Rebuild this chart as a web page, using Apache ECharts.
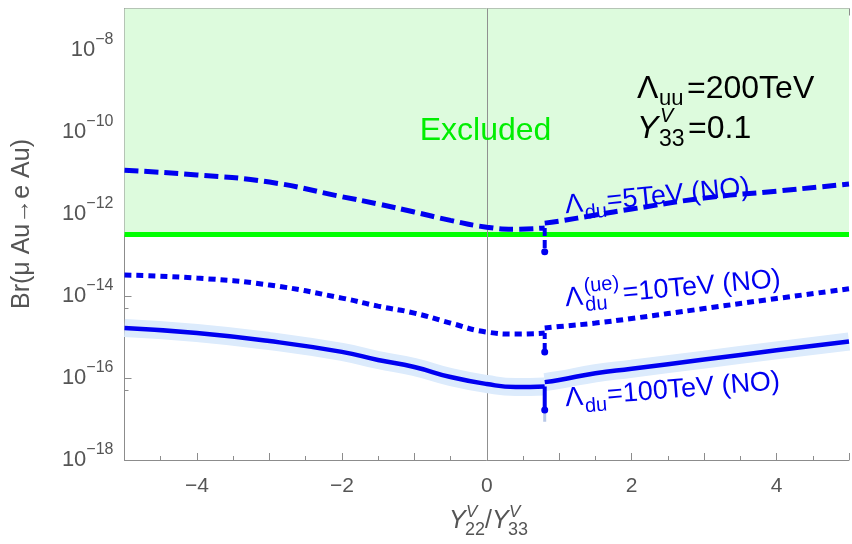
<!DOCTYPE html>
<html><head><meta charset="utf-8">
<script src="https://cdn.jsdelivr.net/npm/echarts@6/dist/echarts.min.js"></script>
<style>html,body{margin:0;padding:0;background:#fff}#c{width:852px;height:544px}</style>
</head><body><div id="c"></div>
<script>
// ---- data ----
const xTickLabels = [-4, -2, 0, 2, 4];
const yTickExponents = [-18, -16, -14, -12, -10, -8];
const excludedLimit = 3.1e-13;
const xLeft  = [-5, -4, -3, -2, -1.5, -1, -0.5, 0, 0.4, 0.8];
const xRight = [0.8, 1, 1.5, 2, 3, 4, 5];
const spikeX = 0.8;
// Lambda_du = 5 TeV (dashed)
const dashedLeft  = [1.15e-11, 8.8e-12, 5.9e-12, 2.6e-12, 1.73e-12, 1.1e-12, 6.9e-13, 4.7e-13, 4.2e-13, 4.5e-13];
const dashedRight = [5.9e-13, 6.6e-13, 9.3e-13, 1.3e-12, 2.4e-12, 3.55e-12, 5.3e-12];
const dashedSpike = 1.18e-13;
// Lambda_du^(ue) = 10 TeV (dotted)
const dottedLeft  = [3.2e-14, 2.7e-14, 1.83e-14, 8.8e-15, 5.6e-15, 3.8e-15, 2.17e-15, 1.31e-15, 1.17e-15, 1.24e-15];
const dottedRight = [1.64e-15, 1.78e-15, 2.17e-15, 2.8e-15, 4.9e-15, 8.6e-15, 1.48e-14];
const dottedSpike = 4.3e-16;
// Lambda_du = 100 TeV (solid)
const solidLeft  = [1.64e-15, 1.24e-15, 7.9e-16, 4.3e-16, 2.73e-16, 1.84e-16, 1.05e-16, 7.1e-17, 6.0e-17, 6.2e-17];
const solidRight = [7.9e-17, 8.9e-17, 1.3e-16, 1.67e-16, 2.8e-16, 4.7e-16, 7.7e-16];
const solidSpike = 1.65e-17;
const bandSpike = 8.5e-18;

// ---- chart ----
const FONT = 'Liberation Sans, Arial, sans-serif';
const BLUE = '#0000f0';
const GRAY = '#555555';
const AXIS = '#8c8c8c';
const zip = (xs, ys) => xs.map((x, i) => [x, ys[i]]);

function curve(name, xs, ys, type, width, z) {
  return { name, type: 'line', data: zip(xs, ys), showSymbol: false, symbol: 'none',
    smooth: true, z, silent: true, animation: false,
    lineStyle: { color: BLUE, width, type } };
}
function spike(name, x, top, bottom, type, width, z, color, dot) {
  return { name, type: 'line', z, silent: true, animation: false,
    data: [{ value: [x, top], symbol: 'none' }, { value: [x, bottom], symbol: dot ? 'circle' : 'none', symbolSize: 7 }],
    showSymbol: true, itemStyle: { color }, lineStyle: { color, width, type } };
}
const dashPattern = [14, 6];
const dotPattern = [7, 5];

const chart = echarts.init(document.getElementById('c'), null, { renderer: 'canvas' });
const xAxisBase = {
  type: 'value', min: -5, max: 5, interval: 1,
  axisLine: { show: true, onZero: false, lineStyle: { color: AXIS, width: 1 } },
  axisTick: { show: true, inside: true, length: 7, lineStyle: { color: AXIS } },
  minorTick: { show: true, splitNumber: 2, length: 4, lineStyle: { color: AXIS } },
  splitLine: { show: false }
};
chart.setOption({
  animation: false,
  grid: { left: 124.5, top: 8.5, width: 729, height: 451.5, containLabel: false },
  xAxis: [
    Object.assign({}, xAxisBase, { position: 'bottom',
      axisLabel: { show: true, margin: 16, color: GRAY, fontSize: 21, fontFamily: FONT,
        formatter: v => xTickLabels.includes(v) ? (v < 0 ? '\u2212' + (-v) : String(v)) : '' } }),
    Object.assign({}, xAxisBase, { position: 'top', axisLabel: { show: false } })
  ],
  yAxis: {
    type: 'log', logBase: 10, min: 1e-18, max: 1e-7, interval: 2,
    axisLine: { show: true, onZero: false, lineStyle: { color: AXIS, width: 1 } },
    axisTick: { show: true, inside: true, length: 7, lineStyle: { color: AXIS } },
    minorTick: { show: true, splitNumber: 2, length: 4, lineStyle: { color: AXIS } },
    splitLine: { show: false },
    axisLabel: { margin: 11, color: GRAY, fontFamily: FONT,
      formatter: v => { const e = Math.round(Math.log10(v));
        return yTickExponents.includes(e) ? '{b|10}{e|\u2212' + (-e) + '}' : ''; },
      rich: { b: { fontSize: 22, fontFamily: FONT, color: GRAY, verticalAlign: 'bottom', lineHeight: 22 },
              e: { fontSize: 16, fontFamily: FONT, color: GRAY, verticalAlign: 'bottom', lineHeight: 16, padding: [0, 0, 13, 0] } } }
  },
  series: [
    { name: 'limit', type: 'line', data: [[-5, excludedLimit], [5, excludedLimit]], symbol: 'none', z: 3, silent: true,
      lineStyle: { color: '#00ff00', width: 5 },
      markArea: { silent: true, itemStyle: { color: '#ddfbdd' }, data: [[{ yAxis: excludedLimit }, { yAxis: 1e-7 }]] } },
    { name: 'zero', type: 'line', data: [], z: 4, silent: true,
      markLine: { silent: true, symbol: 'none', label: { show: false }, lineStyle: { color: '#909090', width: 1, type: 'solid' },
        data: [{ xAxis: 0 }] } },
    // band around solid curve
    Object.assign(curve('bandL', xLeft, solidLeft, 'solid', 18, 5), { lineStyle: { color: '#dcebfc', width: 18, cap: 'butt' } }),
    Object.assign(curve('bandR', xRight, solidRight, 'solid', 18, 5), { lineStyle: { color: '#dcebfc', width: 18, cap: 'butt' } }),
    spike('bandSpike', spikeX, solidLeft[solidLeft.length - 1], bandSpike, 'solid', 3, 6, '#b8c8e8', false),
    curve('dashedL', xLeft, dashedLeft, dashPattern, 5, 10),
    curve('dashedR', xRight, dashedRight, dashPattern, 5, 10),
    spike('dashedS', spikeX, dashedLeft[dashedLeft.length - 1], dashedSpike, [8, 4], 4, 10, BLUE, true),
    curve('dottedL', xLeft, dottedLeft, dotPattern, 5, 10),
    curve('dottedR', xRight, dottedRight, dotPattern, 5, 10),
    spike('dottedS', spikeX, dottedLeft[dottedLeft.length - 1], dottedSpike, [6, 4], 4, 10, BLUE, true),
    curve('solidL', xLeft, solidLeft, 'solid', 4.5, 10),
    curve('solidR', xRight, solidRight, 'solid', 4.5, 10),
    spike('solidS', spikeX, solidLeft[solidLeft.length - 1], solidSpike, 'solid', 4, 10, BLUE, true)
  ]
});

// ---- text annotations ----
function T(text, x, baseline, fs, opts) {
  opts = opts || {};
  return { type: 'text', x: x, y: baseline - 0.34 * fs, silent: true, z: 100,
    style: { text, fill: opts.fill || '#000', font: (opts.italic ? 'italic ' : '') + fs + 'px ' + FONT,
      textAlign: opts.align || 'left', textVerticalAlign: 'middle' } };
}
const blue = { fill: BLUE };
chart.setOption({ graphic: [
  T('Excluded', 485.5, 142, 32, { fill: '#00ee00', align: 'center' }),
  T('\u039B', 637, 100, 32), T('uu', 659, 106, 22), T('=200TeV', 687, 100, 32),
  T('Y', 637, 140, 32, { italic: true }), T('V', 660, 123, 20, { italic: true }), T('33', 659, 147, 23), T('=0.1', 688, 140, 32),
  { type: 'group', x: 566, y: 215, rotation: 0.1, z: 100, children: [
    T('\u039B', 0, 0, 27, blue), T('du', 19, 7, 20, blue), T('=5TeV (NO)', 42, 0, 27, blue) ] },
  { type: 'group', x: 566, y: 308, rotation: 0.09, z: 100, children: [
    T('\u039B', 0, 0, 27, blue), T('(ue)', 19.5, -13, 20, blue), T('du', 19.5, 6, 20, blue), T('=10TeV (NO)', 58, 0, 27, blue) ] },
  { type: 'group', x: 566, y: 408, rotation: 0.08, z: 100, children: [
    T('\u039B', 0, 0, 27, blue), T('du', 19, 7, 20, blue), T('=100TeV (NO)', 42, 0, 27, blue) ] },
  { type: 'text', x: 22, y: 224, rotation: Math.PI / 2, silent: true, z: 100,
    style: { text: 'Br(\u03BC Au\u2192e Au)', fill: GRAY, font: '25px ' + FONT, textAlign: 'center', textVerticalAlign: 'middle' } },
  T('Y', 449, 530, 25, { fill: GRAY, italic: true }), T('V', 466, 518, 17, { fill: GRAY, italic: true }), T('22', 465, 536, 18, { fill: GRAY }),
  T('/', 485, 530, 25, { fill: GRAY }),
  T('Y', 492, 530, 25, { fill: GRAY, italic: true }), T('V', 509, 518, 17, { fill: GRAY, italic: true }), T('33', 508, 536, 18, { fill: GRAY })
]});
</script></body></html>
